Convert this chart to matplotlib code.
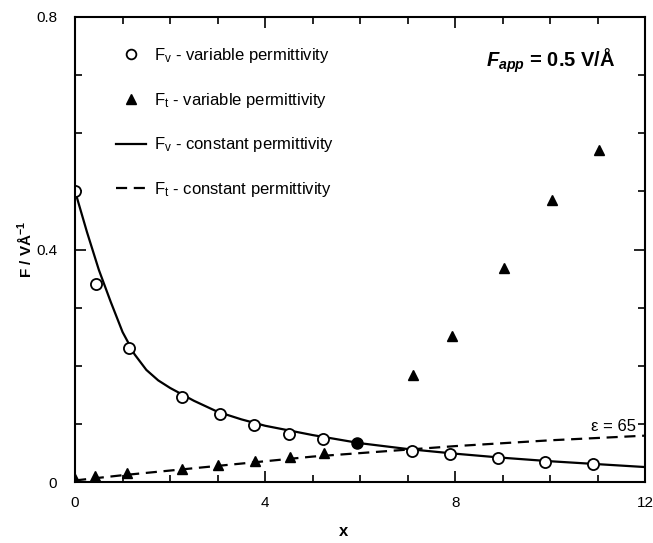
import matplotlib.pyplot as plt
from matplotlib.lines import Line2D
from matplotlib.ticker import MultipleLocator, FixedLocator, FixedFormatter

plt.rcParams['font.family'] = ['Liberation Sans', 'DejaVu Sans']
plt.rcParams['mathtext.fontset'] = 'custom'
plt.rcParams['mathtext.rm'] = 'Liberation Sans'
plt.rcParams['mathtext.it'] = 'Liberation Sans:italic:bold'
plt.rcParams['mathtext.bf'] = 'Liberation Sans:bold'

# F_v, variable permittivity (open circles)
xv = [0.0, 0.45, 1.13, 2.26, 3.04, 3.77, 4.5, 5.22, 7.1, 7.9, 8.9, 9.9, 10.9]
fv = [0.5, 0.34, 0.231, 0.147, 0.118, 0.098, 0.083, 0.075, 0.054, 0.048, 0.041, 0.035, 0.032]

# crossing point (filled circle)
x_cross = [5.93]
f_cross = [0.067]

# F_t, variable permittivity (filled triangles)
xt = [0.0, 0.42, 1.1, 2.25, 3.0, 3.78, 4.52, 5.24, 7.12, 7.94, 9.02, 10.04, 11.03]
ft = [0.005, 0.011, 0.015, 0.023, 0.029, 0.037, 0.044, 0.051, 0.185, 0.252, 0.369, 0.485, 0.571]

# constant permittivity curves
xc_v = [0, 0.25, 0.5, 0.75, 1.0, 1.25, 1.5, 1.75, 2.0, 2.5, 3, 3.5, 4, 5, 6, 7, 8, 9, 10, 11, 12]
fc_v = [0.5, 0.43, 0.365, 0.31, 0.258, 0.22, 0.193, 0.175, 0.162, 0.140, 0.121, 0.108,
        0.097, 0.081, 0.067, 0.057, 0.049, 0.042, 0.036, 0.031, 0.026]
xc_t = [0, 1, 2, 3, 4, 5, 6, 7, 8, 9, 10, 11, 12]
fc_t = [0.003, 0.012, 0.02, 0.028, 0.036, 0.044, 0.05, 0.056, 0.062, 0.067, 0.072, 0.076, 0.08]

fig = plt.figure(figsize=(6.53, 5.43), dpi=100)
ax = fig.add_axes([0.115, 0.112, 0.873, 0.857])

ax.plot(xc_v, fc_v, '-', color='black', lw=1.6)
ax.plot(xc_t, fc_t, '--', color='black', lw=1.6, dashes=(5, 3))
ax.plot(xv, fv, 'o', mfc='white', mec='black', mew=1.3, ms=8)
ax.plot(x_cross, f_cross, 'o', color='black', ms=8)
ax.plot(xt, ft, '^', color='black', ms=7.5)

ax.set_xlim(0, 12)
ax.set_ylim(0, 0.8)
ax.xaxis.set_major_locator(FixedLocator([0, 4, 8, 12]))
ax.xaxis.set_major_formatter(FixedFormatter(['0', '4', '8', '12']))
ax.xaxis.set_minor_locator(MultipleLocator(1))
ax.yaxis.set_major_locator(FixedLocator([0, 0.4, 0.8]))
ax.yaxis.set_major_formatter(FixedFormatter(['0', '0.4', '0.8']))
ax.yaxis.set_minor_locator(MultipleLocator(0.1))
ax.tick_params(which='both', direction='in', top=True, right=True, width=1.2, labelsize=11)
ax.tick_params(which='major', length=8)
ax.tick_params(axis='x', which='major', pad=10)
ax.tick_params(axis='y', which='major', pad=13)
ax.tick_params(which='minor', length=5)
for s in ax.spines.values():
    s.set_linewidth(1.5)

ax.set_xlabel('x', fontsize=12, fontweight='bold')
ax.xaxis.set_label_coords(0.47, -0.09)
ax.set_ylabel('F / VÅ$^{\\mathbf{-1}}$', fontsize=11, fontweight='bold')
ax.yaxis.set_label_coords(-0.072, 0.5)

handles = [
    Line2D([], [], ls='none', marker='o', mfc='white', mec='black', mew=1.3, ms=7),
    Line2D([], [], ls='none', marker='^', color='black', ms=7),
    Line2D([], [], ls='-', color='black', lw=1.6),
    Line2D([], [], ls='--', color='black', lw=1.6, dashes=(5, 3)),
]
labels = [
    'F$_{\\mathrm{v}}$ - variable permittivity',
    'F$_{\\mathrm{t}}$ - variable permittivity',
    'F$_{\\mathrm{v}}$ - constant permittivity',
    'F$_{\\mathrm{t}}$ - constant permittivity',
]
ax.legend(handles, labels, loc='upper left', bbox_to_anchor=(0.045, 0.97), frameon=False,
          fontsize=12, labelspacing=1.55, handlelength=1.8, handletextpad=0.5)

ax.text(0.72, 0.905, '$F_{app}$ = 0.5 V/Å', transform=ax.transAxes,
        fontsize=14.5, fontweight='bold', va='center')
ax.text(11.8, 0.083, 'ε = 65', fontsize=12, ha='right', va='bottom')

fig.savefig('out.png', dpi=100)
